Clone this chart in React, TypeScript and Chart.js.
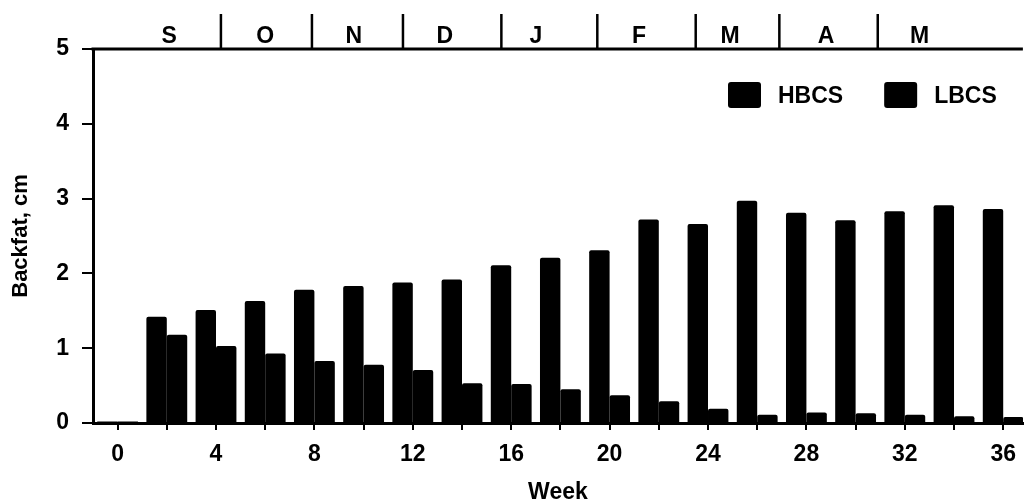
import { useEffect, useRef } from 'react';
import { Chart, registerables } from 'chart.js';

Chart.register(...registerables);

// Sampling weeks (bars are grouped at every second week)
const weeks = [0, 2, 4, 6, 8, 10, 12, 14, 16, 18, 20, 22, 24, 26, 28, 30, 32, 34, 36];

// Backfat depth, cm
const hbcs = [0.02, 1.42, 1.51, 1.63, 1.78, 1.83, 1.88, 1.92, 2.11, 2.21, 2.31, 2.72, 2.66, 2.97, 2.81, 2.71, 2.83, 2.91, 2.86];
const lbcs = [0.02, 1.18, 1.03, 0.93, 0.83, 0.78, 0.71, 0.53, 0.52, 0.45, 0.37, 0.29, 0.19, 0.11, 0.14, 0.13, 0.11, 0.09, 0.08];

const seriesNames = ['HBCS', 'LBCS'];
const seriesColors = ['#000000', '#000000'];

const yTicks = [0, 1, 2, 3, 4, 5];

// Calendar months along the top, in week units
const months = ['S', 'O', 'N', 'D', 'J', 'F', 'M', 'A', 'M'];
const monthCenters = [2.1, 6.0, 9.6, 13.3, 17.0, 21.2, 24.9, 28.8, 32.6];
const monthBounds = [4.2, 7.9, 11.6, 15.6, 19.5, 23.5, 26.9, 30.9];

const FAMILY = '"Liberation Sans", Arial, Helvetica, sans-serif';
const labelFont = { family: FAMILY, size: 23, weight: 'bold' as const };

const monthAxisPlugin = {
  id: 'monthAxis',
  afterDraw(chart: any) {
    const { ctx, chartArea, scales } = chart;
    const x = scales.x;
    ctx.save();
    ctx.strokeStyle = '#000';
    ctx.lineWidth = 3;
    ctx.beginPath();
    ctx.moveTo(chartArea.left - 1.5, chartArea.top);
    ctx.lineTo(chartArea.right, chartArea.top);
    ctx.stroke();
    ctx.lineWidth = 2.5;
    monthBounds.forEach((w) => {
      const px = x.getPixelForValue(w);
      ctx.beginPath();
      ctx.moveTo(px, chartArea.top - 35);
      ctx.lineTo(px, chartArea.top);
      ctx.stroke();
    });
    ctx.fillStyle = '#000';
    ctx.font = `bold 23px ${FAMILY}`;
    ctx.textAlign = 'center';
    ctx.textBaseline = 'middle';
    months.forEach((m, i) => {
      ctx.fillText(m, x.getPixelForValue(monthCenters[i]), chartArea.top - 12);
    });
    ctx.restore();
  },
};

const boxLegendPlugin = {
  id: 'boxLegend',
  afterDraw(chart: any) {
    const { ctx } = chart;
    let xPos = 728;
    const yMid = 95;
    ctx.save();
    ctx.font = `bold 23px ${FAMILY}`;
    ctx.textAlign = 'left';
    ctx.textBaseline = 'middle';
    chart.data.datasets.forEach((ds: any) => {
      ctx.fillStyle = ds.backgroundColor;
      ctx.beginPath();
      ctx.roundRect(xPos, yMid - 13, 33, 26, 3);
      ctx.fill();
      ctx.fillStyle = '#000';
      ctx.fillText(ds.label, xPos + 50, yMid + 2);
      xPos += 50 + ctx.measureText(ds.label).width + 41;
    });
    ctx.restore();
  },
};

export default function App() {
  const canvasRef = useRef<HTMLCanvasElement | null>(null);

  useEffect(() => {
    if (!canvasRef.current) return;
    const series = [hbcs, lbcs];
    const chart = new Chart(canvasRef.current, {
      type: 'bar',
      data: {
        datasets: series.map((vals, s) => ({
          label: seriesNames[s],
          data: weeks.map((w, i) => ({ x: w, y: vals[i] })),
          backgroundColor: seriesColors[s],
          borderWidth: 0,
          borderRadius: 2,
          barPercentage: 1,
          categoryPercentage: 0.83,
        })),
      },
      options: {
        responsive: false,
        animation: false,
        devicePixelRatio: 1,
        layout: { padding: { top: 49, left: 0, right: 0, bottom: 0 } },
        plugins: { legend: { display: false }, tooltip: { enabled: false } },
        scales: {
          x: {
            type: 'linear',
            min: -1,
            max: 36.8,
            offset: false,
            afterBuildTicks: (s: any) => {
              s.ticks = weeks.map((v) => ({ value: v }));
            },
            afterFit: (s: any) => {
              s.height = 79;
            },
            ticks: {
              autoSkip: false,
              maxRotation: 0,
              padding: 11,
              color: '#000',
              font: labelFont,
              callback: (v: any) => (Number(v) % 4 === 0 ? String(v) : ''),
            },
            grid: {
              offset: false,
              drawOnChartArea: false,
              drawTicks: true,
              tickLength: 7,
              color: '#000',
              lineWidth: 2,
            },
            border: { display: true, color: '#000', width: 3 },
            title: {
              display: true,
              text: 'Week',
              color: '#000',
              font: { family: FAMILY, size: 23, weight: 'bold', lineHeight: 1 },
              padding: { top: 0, bottom: -2 },
            },
          },
          y: {
            min: 0,
            max: 5,
            afterBuildTicks: (s: any) => {
              s.ticks = yTicks.map((v) => ({ value: v }));
            },
            afterFit: (s: any) => {
              s.width = 93;
            },
            ticks: { padding: 13, color: '#000', font: labelFont },
            grid: {
              drawOnChartArea: false,
              drawTicks: true,
              tickLength: 11,
              color: '#000',
              lineWidth: 2,
            },
            border: { display: true, color: '#000', width: 3 },
            title: {
              display: true,
              text: 'Backfat, cm',
              color: '#000',
              font: { family: FAMILY, size: 22, weight: 'bold' },
              padding: { top: 8, bottom: 0 },
            },
          },
        },
      },
      plugins: [monthAxisPlugin, boxLegendPlugin],
    });
    return () => chart.destroy();
  }, []);

  return (
    <div style={{ position: 'absolute', left: 0, top: 0, width: 1027, height: 502, background: '#fff' }}>
      <canvas ref={canvasRef} width={1027} height={502} />
    </div>
  );
}
